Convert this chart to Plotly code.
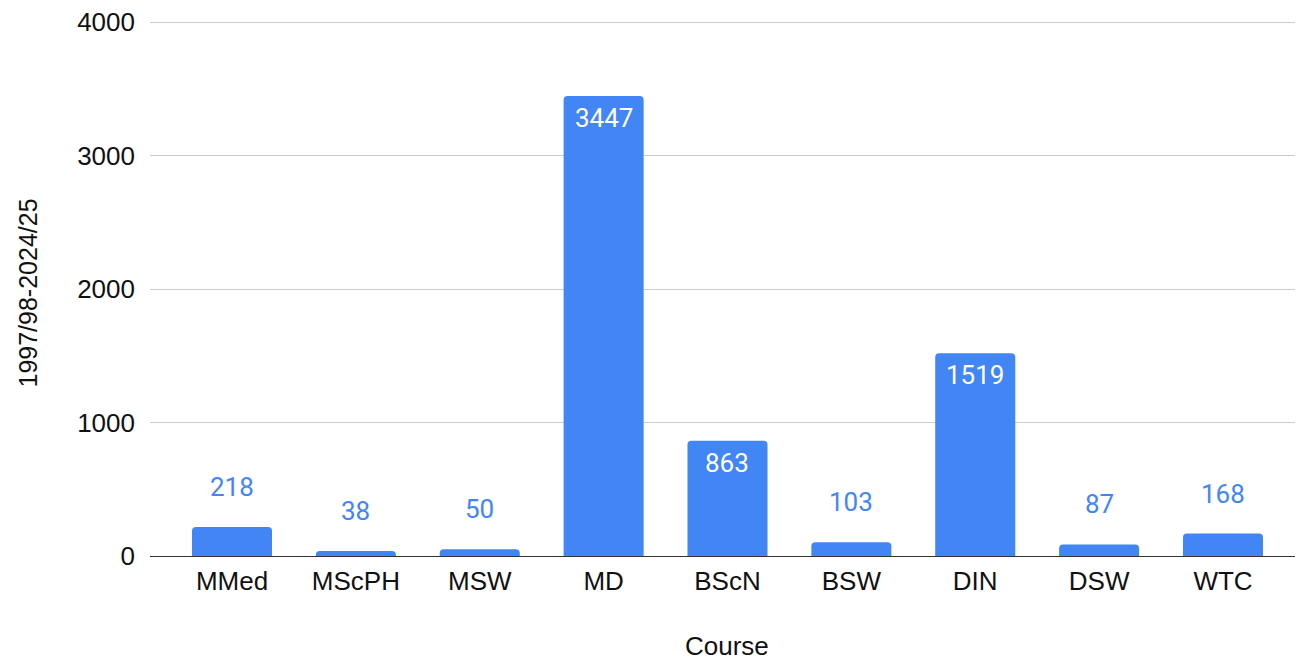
import plotly.graph_objects as go

courses = ["MMed", "MScPH", "MSW", "MD", "BScN", "BSW", "DIN", "DSW", "WTC"]
values = [218, 38, 50, 3447, 863, 103, 1519, 87, 168]
y_ticks = [0, 1000, 2000, 3000, 4000]

BLUE = "#4285F4"
AXIS_FONT = "Liberation Sans, Arial, sans-serif"
LABEL_FONT = "Roboto, sans-serif"

fig = go.Figure()
fig.add_trace(go.Bar(
    x=courses, y=values, marker=dict(color=BLUE, line=dict(width=0)),
    width=0.646, hoverinfo="x+y",
))

INSIDE_THRESHOLD = 500
for c, v in zip(courses, values):
    inside = v >= INSIDE_THRESHOLD
    fig.add_annotation(
        x=c, y=v, xref="x", yref="y", text=str(v), showarrow=False,
        yanchor="middle", yshift=-22 if inside else 40,
        font=dict(family=LABEL_FONT, size=26, color="white" if inside else BLUE),
    )

# axis titles
fig.add_annotation(
    x=0.5, y=0, xref="paper", yref="paper", text="Course", showarrow=False,
    xanchor="center", yanchor="middle", yshift=-90,
    font=dict(family=AXIS_FONT, size=26, color="#111"),
)
fig.add_annotation(
    x=0, y=0.5, xref="paper", yref="paper", text="1997/98-2024/25", showarrow=False,
    textangle=-90, xanchor="center", yanchor="middle", xshift=-123, yshift=-5,
    font=dict(family=AXIS_FONT, size=25, color="#111"),
)

fig.update_layout(
    width=1295, height=652,
    margin=dict(l=142, r=0, t=13, b=104),
    plot_bgcolor="white", paper_bgcolor="white",
    showlegend=False,
    barcornerradius=4,
    font=dict(family=AXIS_FONT, size=26, color="#000"),
    xaxis=dict(
        type="category", range=[-0.662, 8.646], automargin=False,
        showgrid=False, showline=False, ticks="", ticklabelstandoff=7,
        tickfont=dict(family=AXIS_FONT, size=26, color="#111"),
    ),
    yaxis=dict(
        range=[0, 4008], tickvals=y_ticks, ticktext=[str(t) for t in y_ticks],
        automargin=False, ticklabeloverflow="allow",
        showgrid=True, gridcolor="#cccccc", gridwidth=1.3,
        zeroline=True, zerolinecolor="#333333", zerolinewidth=1.3,
        showline=False, ticks="", ticklabelstandoff=14,
        tickfont=dict(family=AXIS_FONT, size=26, color="#111"),
    ),
)

fig.write_html("out.html")
